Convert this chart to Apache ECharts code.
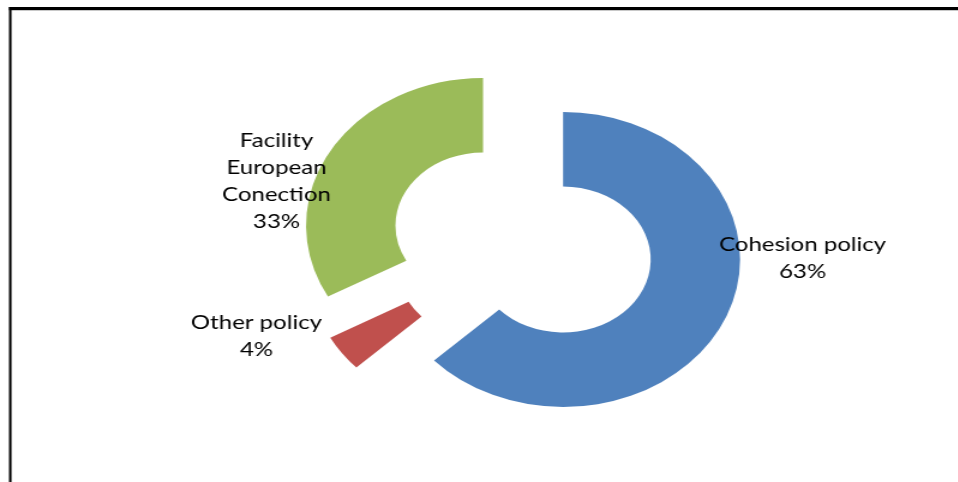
<!DOCTYPE html>
<html><head><meta charset="utf-8">
<script src="https://cdn.jsdelivr.net/npm/echarts@6/dist/echarts.min.js"></script>
<style>
html,body{margin:0;padding:0;background:#fff;overflow:hidden}
#wrap{width:958px;height:482px;overflow:hidden;position:relative;background:#fff}
#chart{width:798px;height:482px;transform:scaleX(1.2);transform-origin:0 0}
</style></head><body>
<div id="wrap"><div id="chart"></div></div>
<script>
const categories = ['Cohesion policy', 'Other policy', 'Facility European Conection'];
const labelNames = ['Cohesion policy', 'Other policy', 'Facility\nEuropean\nConection'];
const values = [63, 4, 33];
const colors = ['#4F81BD', '#C0504D', '#9BBB59'];

const SX = 1.2; // horizontal stretch of the original picture
const labelPos = [[668.8, 258], [213.7, 336.5], [230.4, 181]];

const total = values.reduce((a, b) => a + b, 0);
const labelTexts = labelNames.map((n, i) => n + '\n' + Math.round(values[i] / total * 100) + '%');

const chart = echarts.init(document.getElementById('chart'), null, {renderer: 'canvas'});
chart.setOption({
  animation: false,
  backgroundColor: '#ffffff',
  graphic: [
    {type: 'rect', shape: {x: 9 / SX, y: 7, width: 958 / SX, height: 3}, style: {fill: '#000'}, silent: true},
    {type: 'rect', shape: {x: 9 / SX, y: 10, width: 958 / SX, height: 1}, style: {fill: '#c8c8c8'}, silent: true},
    {type: 'rect', shape: {x: 9 / SX, y: 7, width: 2.5 / SX, height: 480}, style: {fill: '#000'}, silent: true}
  ].concat(labelTexts.map((t, i) => ({
    type: 'text',
    x: labelPos[i][0],
    y: labelPos[i][1],
    z: 10,
    silent: true,
    style: {
      text: t,
      fill: '#000',
      fontFamily: 'Lato',
      fontSize: 20,
      lineHeight: 27,
      align: 'center',
      verticalAlign: 'middle'
    }
  }))),
  series: [{
    type: 'pie',
    center: [434.8, 244.6],
    radius: [73, 147.5],
    startAngle: 90,
    clockwise: true,
    selectedMode: 'multiple',
    selectedOffset: 37.5,
    emphasis: {disabled: true},
    itemStyle: {borderWidth: 0},
    label: {show: false},
    labelLine: {show: false},
    data: categories.map((c, i) => ({
      name: c, value: values[i], selected: true, itemStyle: {color: colors[i]}
    }))
  }]
});
</script>
</body></html>
